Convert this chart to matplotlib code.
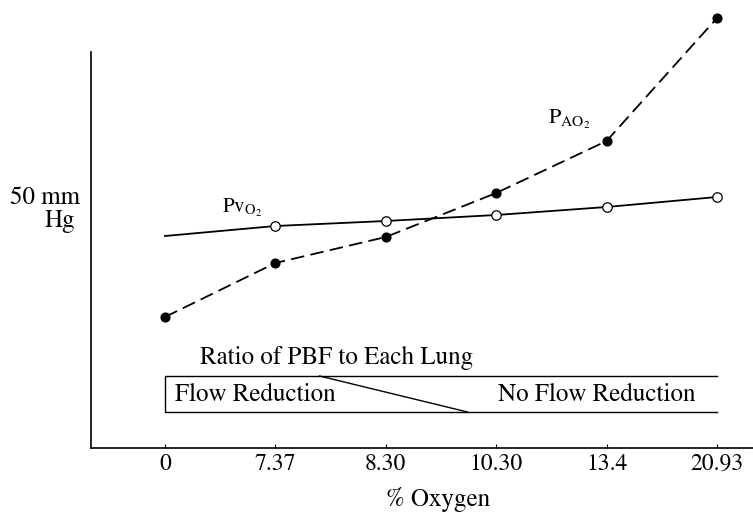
import matplotlib
matplotlib.use("Agg")
import matplotlib.pyplot as plt
import numpy as np

# % O2 steps (equally spaced categories)
oxygen_labels = ["0", "7.37", "8.30", "10.30", "13.4", "20.93"]
# mixed venous PO2 (mm Hg), open circles
pv_o2 = [42.4, 44.4, 45.4, 46.6, 48.2, 50.2]
# alveolar PO2 (mm Hg), filled circles
pa_o2 = [26.2, 37.0, 42.2, 51.0, 61.4, 86.0]

plt.rcParams["font.family"] = "STIXGeneral"
plt.rcParams["mathtext.fontset"] = "stix"

fig = plt.figure(figsize=(7.53, 5.12), dpi=100)
ax = fig.add_axes([91 / 753, 64 / 512, 662 / 753, 448 / 512])

x = np.arange(len(oxygen_labels))
ax.plot(x, pa_o2, color="black", lw=1.3, ls=(0, (7.5, 3.5)), marker="o",
        ms=6.3, mfc="black", mec="black", clip_on=False, zorder=3)
ax.plot(x, pv_o2, color="black", lw=1.3, ls="-", marker="o", ms=6.8,
        mfc="white", mec="black", mew=0.9, markevery=[1, 2, 3, 4, 5],
        clip_on=False, zorder=4)

ax.set_xlim(-0.670, 5.326)
ax.set_ylim(0, 89.6)
for s in ["top", "right"]:
    ax.spines[s].set_visible(False)
ax.spines["left"].set_bounds(0, 79.2)
ax.spines["left"].set_linewidth(1.2)
ax.spines["bottom"].set_linewidth(1.2)

ax.set_xticks(x)
ax.set_xticklabels(oxygen_labels, fontsize=17)
ax.tick_params(axis="x", direction="in", length=3, width=0.8, pad=4)
ax.set_yticks([])

# y label "50 mm Hg"
ax.text(-0.0166, 50, "50 mm", transform=ax.get_yaxis_transform(),
        ha="right", va="center", fontsize=18)
ax.text(-0.024, 45.4, "Hg", transform=ax.get_yaxis_transform(),
        ha="right", va="center", fontsize=18)

ax.text(2.47, -10.4, "% Oxygen", ha="center", va="center", fontsize=18,
        clip_on=False)

# series labels
ax.text(0.516, 47.2, r"Pv$_{\mathregular{O_2}}$", fontsize=15, va="baseline")
ax.text(3.47, 64.8, r"P$_{\mathregular{AO_2}}$", fontsize=16,
        va="baseline")

# ratio of PBF box
ax.text(0.317, 18, "Ratio of PBF to Each Lung", fontsize=18, va="center")
ax.plot([5.0, 0, 0, 5.0], [14.4, 14.4, 7.2, 7.2], color="black", lw=1.0)
ax.plot([1.40, 2.74], [14.4, 7.2], color="black", lw=1.0)
ax.text(0.09, 10.6, "Flow Reduction", fontsize=18, va="center")
ax.text(3.02, 10.6, "No Flow Reduction", fontsize=18, va="center")

fig.savefig("out.png", dpi=100)
